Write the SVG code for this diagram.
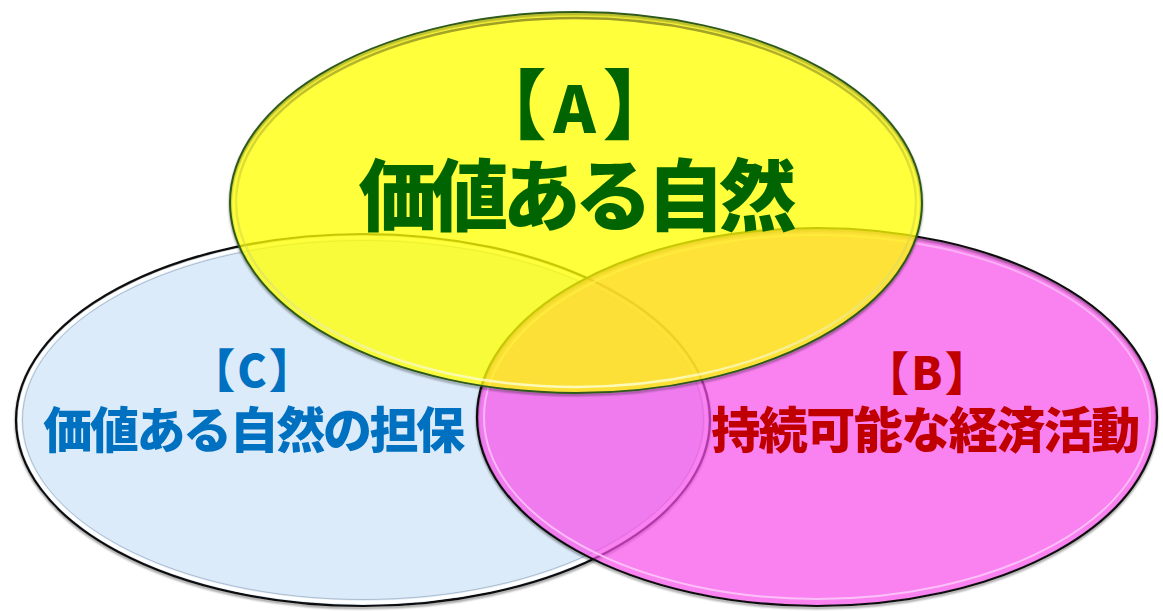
<svg xmlns="http://www.w3.org/2000/svg" width="1163" height="611" viewBox="0 0 1163 611">
  <defs>
    <linearGradient id="ringY" x1="0" y1="0" x2="0" y2="1">
      <stop offset="0" stop-color="#7d7a1c" stop-opacity="0.75"/>
      <stop offset="0.5" stop-color="#c8c830" stop-opacity="0.4"/>
      <stop offset="1" stop-color="#ffffd0" stop-opacity="0.85"/>
    </linearGradient>
    <linearGradient id="ringB" x1="0" y1="0" x2="0" y2="1">
      <stop offset="0" stop-color="#ffffff" stop-opacity="0.95"/>
      <stop offset="1" stop-color="#ffffff" stop-opacity="1"/>
    </linearGradient>
    <linearGradient id="ringM" x1="0" y1="0" x2="0" y2="1">
      <stop offset="0" stop-color="#fbb8f6" stop-opacity="0.8"/>
      <stop offset="1" stop-color="#fcc4f8" stop-opacity="0.95"/>
    </linearGradient>
    <filter id="soft" x="-5%" y="-5%" width="110%" height="115%">
      <feGaussianBlur in="SourceAlpha" stdDeviation="1.2" result="b"/>
      <feOffset in="b" dy="1.5" result="o"/>
      <feFlood flood-color="#000" flood-opacity="0.45"/>
      <feComposite in2="o" operator="in" result="s"/>
      <feMerge><feMergeNode in="s"/><feMergeNode in="SourceGraphic"/></feMerge>
    </filter>
  </defs>
  <style>
    .t { font-family: "Noto Sans CJK JP", "Noto Sans", sans-serif; font-weight: 900; text-anchor: middle; }
    .ta { fill: #006400; }
    .tb { fill: #c00000; }
    .tc { fill: #0070c0; }
    .edge { fill: none; filter: url(#soft); }
  </style>
  <rect width="1163" height="611" fill="#ffffff"/>

  <g id="node-c">
    <ellipse cx="363" cy="420" rx="347" ry="186" fill="#dcebfa"/>
    <ellipse class="edge" cx="363" cy="420" rx="347" ry="186" stroke="#111111" stroke-width="2.2"/>
    <ellipse cx="363" cy="420" rx="343.5" ry="182.5" fill="none" stroke="url(#ringB)" stroke-width="3.5"/>
    <ellipse cx="363" cy="420" rx="340.5" ry="179.5" fill="none" stroke="#9fb0c0" stroke-width="1" stroke-opacity="0.8"/>
    <text class="t tc" x="253" y="387" letter-spacing="2"><tspan font-size="46">【</tspan><tspan font-size="44">C</tspan><tspan font-size="46">】</tspan></text>
    <text class="t tc" x="253" y="448" font-size="49" letter-spacing="-2.4">価値ある自然の担保</text>
  </g>

  <g id="node-b">
    <ellipse cx="817" cy="417" rx="340" ry="189" fill="#f84cea" fill-opacity="0.7"/>
    <ellipse class="edge" cx="817" cy="417" rx="340" ry="189" stroke="#111111" stroke-width="2.2"/>
    <ellipse cx="817" cy="417" rx="333" ry="182" fill="none" stroke="url(#ringM)" stroke-width="2"/>
    <text class="t tb" x="928" y="390" letter-spacing="2"><tspan font-size="46">【</tspan><tspan font-size="45">B</tspan><tspan font-size="46">】</tspan></text>
    <text class="t tb" x="925" y="448" font-size="49" letter-spacing="-1.5">持続可能な経済活動</text>
  </g>

  <g id="node-a">
    <ellipse cx="576" cy="202.5" rx="346" ry="190.5" fill="#ffff00" fill-opacity="0.77"/>
    <ellipse class="edge" cx="576" cy="202.5" rx="346" ry="190.5" stroke="#2f5a1f" stroke-width="2"/>
    <ellipse cx="576" cy="202.5" rx="340" ry="184.5" fill="none" stroke="url(#ringY)" stroke-width="2.5"/>
    <text class="t ta" x="578" y="133" letter-spacing="7"><tspan font-size="76">【</tspan><tspan font-size="64">A</tspan><tspan font-size="76">】</tspan></text>
    <text class="t ta" x="574.5" y="224.5" font-size="78" letter-spacing="-6">価値ある自然</text>
  </g>
</svg>
